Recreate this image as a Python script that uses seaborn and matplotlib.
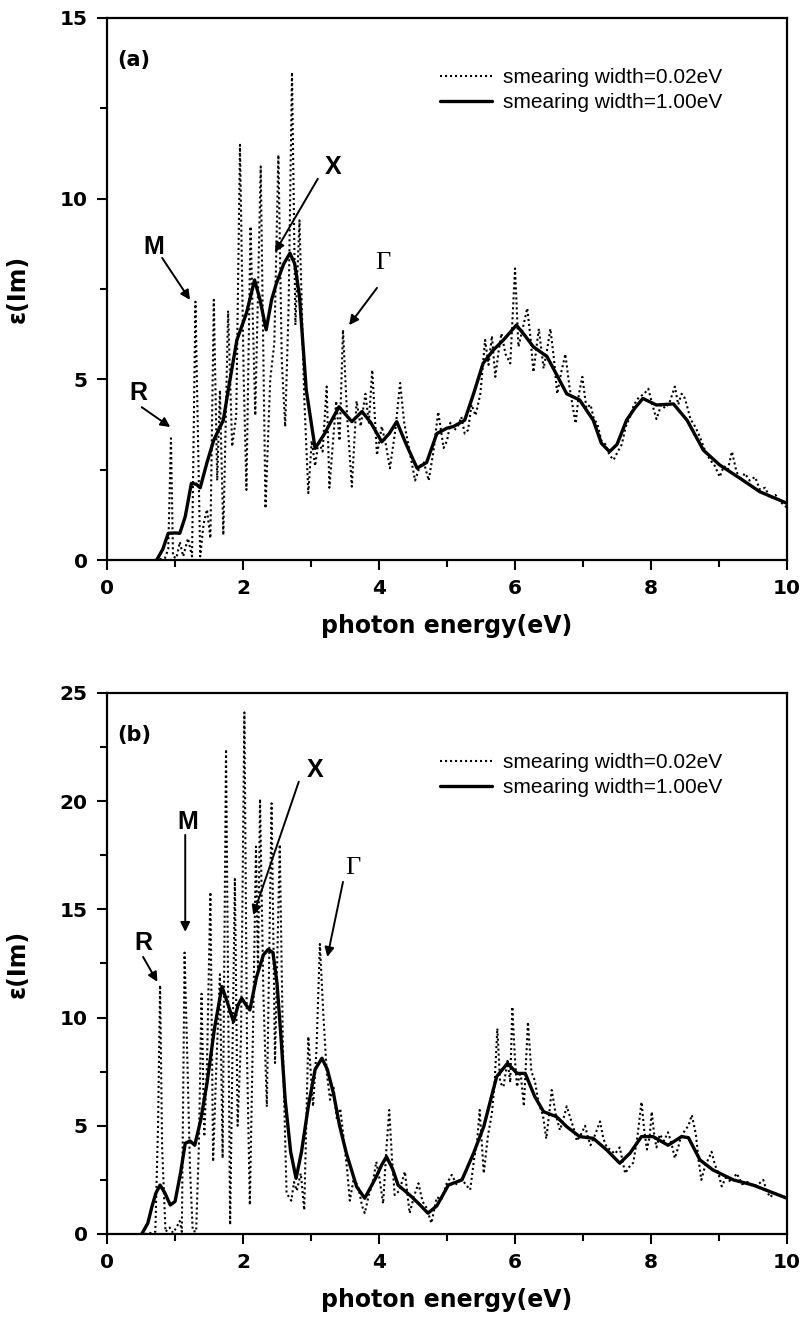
import numpy as np
import pandas as pd
import seaborn as sns
import matplotlib.pyplot as plt
from matplotlib.ticker import MultipleLocator

sns.set_style("ticks")
plt.rcParams['font.family'] = ['DejaVu Sans']
plt.rcParams.update({"text.color": "k", "axes.labelcolor": "k",
                     "xtick.color": "k", "ytick.color": "k",
                     "axes.edgecolor": "k"})

# ---- panel (a): smearing width 0.02 eV (spiky) ----
a_fine_x = [0.70, 0.85, 0.90, 0.94, 0.97, 1.02, 1.07, 1.12, 1.19, 1.25,
            1.30, 1.37, 1.42, 1.47, 1.52, 1.57, 1.62, 1.66, 1.71, 1.78,
            1.84, 1.90, 1.955, 2.01, 2.05, 2.11, 2.18, 2.26, 2.33, 2.40,
            2.46, 2.52, 2.57, 2.62, 2.67, 2.72, 2.77, 2.83, 2.90, 2.96,
            3.01, 3.06, 3.11, 3.17, 3.23, 3.27, 3.32, 3.37, 3.42, 3.47,
            3.53, 3.60, 3.67, 3.73, 3.80, 3.85, 3.90, 3.97, 4.04, 4.10,
            4.16, 4.24, 4.31, 4.37, 4.41, 4.47, 4.53, 4.60, 4.66, 4.73,
            4.80, 4.87, 4.95, 5.00, 5.05, 5.11, 5.16, 5.21, 5.26, 5.31,
            5.36, 5.42, 5.49, 5.56, 5.61, 5.66, 5.71, 5.76, 5.80, 5.86,
            5.93, 6.00, 6.05, 6.10, 6.18, 6.23, 6.27, 6.35, 6.42, 6.47,
            6.52, 6.57, 6.62, 6.68, 6.74, 6.80, 6.89, 6.94, 6.99, 7.05,
            7.11, 7.16, 7.21, 7.27, 7.33, 7.39, 7.45, 7.51, 7.57, 7.63,
            7.69, 7.75, 7.82, 7.90, 7.96, 8.02, 8.08, 8.15, 8.21, 8.28,
            8.35, 8.40, 8.45, 8.50, 8.58, 8.65, 8.72, 8.80, 8.87, 8.94,
            9.01, 9.07, 9.13, 9.19, 9.25, 9.31, 9.38, 9.45, 9.53, 9.60,
            9.68, 9.75, 9.83, 9.91, 10.0]
a_fine_y = [0.0, 0.05, 0.3, 3.37, 0.1, 0.05, 0.5, 0.1, 0.6, 0.1,
            7.15, 0.1, 1.0, 1.4, 0.6, 7.2, 2.2, 4.7, 0.69, 6.9,
            3.14, 4.0, 11.49, 5.0, 1.94, 9.23, 4.0, 10.89, 1.43, 5.0,
            6.0, 11.21, 5.5, 3.69, 7.0, 13.5, 6.5, 9.4, 4.5, 1.85,
            3.3, 2.6, 3.3, 3.0, 4.8, 2.0, 3.2, 4.4, 3.3, 6.37,
            4.0, 2.03, 4.4, 3.7, 4.6, 3.8, 5.26, 2.9, 3.7, 3.2,
            2.54, 3.6, 4.9, 3.8, 3.4, 2.8, 2.2, 2.6, 2.7, 2.2,
            3.0, 4.1, 3.1, 3.3, 3.8, 3.6, 3.7, 3.96, 3.5, 3.6,
            4.3, 4.0, 4.6, 6.09, 5.4, 6.2, 5.07, 5.8, 6.27, 5.7,
            5.44, 8.07, 5.9, 6.3, 6.97, 6.1, 5.2, 6.4, 5.3, 5.8,
            6.4, 5.6, 4.6, 5.2, 5.7, 4.8, 3.78, 4.6, 5.07, 4.2,
            4.3, 3.9, 3.78, 3.3, 3.2, 2.9, 2.77, 3.0, 3.2, 3.7,
            3.96, 4.3, 4.5, 4.6, 4.74, 4.3, 3.9, 4.3, 4.2, 4.4,
            4.8, 4.3, 4.6, 4.47, 3.9, 3.69, 3.4, 3.0, 2.77, 2.6,
            2.3, 2.6, 2.5, 3.0, 2.5, 2.2, 2.4, 2.2, 2.3, 1.95,
            2.0, 1.7, 1.8, 1.6, 1.45]

# ---- panel (a): smearing width 1.00 eV (smooth) ----
a_wide_x = [0.73, 0.82, 0.90, 1.00, 1.07, 1.15, 1.24, 1.31, 1.37, 1.47,
            1.57, 1.71, 1.80, 1.91, 2.05, 2.17, 2.25, 2.34, 2.42, 2.49,
            2.60, 2.69, 2.76, 2.83, 2.93, 3.06, 3.20, 3.41, 3.60, 3.75,
            3.88, 4.04, 4.15, 4.26, 4.40, 4.56, 4.70, 4.85, 5.00, 5.09,
            5.26, 5.39, 5.53, 5.68, 5.83, 6.02, 6.15, 6.27, 6.47, 6.62,
            6.76, 6.95, 7.15, 7.27, 7.39, 7.50, 7.64, 7.76, 7.88, 8.08,
            8.33, 8.53, 8.77, 9.01, 9.31, 9.60, 10.0]
a_wide_y = [0.0, 0.3, 0.74, 0.75, 0.74, 1.2, 2.12, 2.1, 2.0, 2.7,
            3.32, 3.87, 4.9, 6.09, 6.83, 7.75, 7.2, 6.37, 7.2, 7.65,
            8.2, 8.49, 8.2, 7.3, 4.7, 3.09, 3.5, 4.24, 3.83, 4.11,
            3.8, 3.27, 3.5, 3.83, 3.2, 2.54, 2.7, 3.5, 3.65, 3.69,
            3.87, 4.6, 5.44, 5.81, 6.09, 6.5, 6.2, 5.9, 5.63, 5.1,
            4.6, 4.43, 3.87, 3.23, 3.0, 3.2, 3.87, 4.2, 4.47, 4.29,
            4.32, 3.87, 3.04, 2.63, 2.26, 1.89, 1.57]

# ---- panel (b): smearing width 0.02 eV (spiky) ----
b_fine_x = [0.55, 0.65, 0.71, 0.75, 0.78, 0.81, 0.86, 0.92, 0.97, 1.02,
            1.07, 1.10, 1.14, 1.18, 1.22, 1.26, 1.31, 1.35, 1.39, 1.43,
            1.47, 1.52, 1.56, 1.61, 1.66, 1.70, 1.75, 1.81, 1.88, 1.92,
            1.97, 2.02, 2.06, 2.10, 2.15, 2.19, 2.22, 2.25, 2.30, 2.35,
            2.42, 2.47, 2.54, 2.59, 2.64, 2.71, 2.75, 2.79, 2.85, 2.90,
            2.96, 3.03, 3.08, 3.13, 3.18, 3.23, 3.28, 3.33, 3.38, 3.43,
            3.48, 3.53, 3.57, 3.63, 3.70, 3.75, 3.79, 3.85, 3.91, 3.96,
            4.01, 4.06, 4.11, 4.15, 4.19, 4.23, 4.30, 4.38, 4.45, 4.52,
            4.58, 4.64, 4.70, 4.77, 4.85, 4.92, 4.99, 5.07, 5.14, 5.21,
            5.27, 5.34, 5.40, 5.44, 5.48, 5.54, 5.60, 5.66, 5.70, 5.74,
            5.78, 5.83, 5.89, 5.93, 5.96, 6.00, 6.03, 6.08, 6.13, 6.19,
            6.24, 6.29, 6.35, 6.41, 6.46, 6.50, 6.54, 6.60, 6.66, 6.71,
            6.76, 6.82, 6.87, 6.91, 6.97, 7.03, 7.07, 7.11, 7.18, 7.25,
            7.30, 7.35, 7.40, 7.47, 7.54, 7.58, 7.62, 7.68, 7.74, 7.80,
            7.86, 7.90, 7.94, 7.98, 8.01, 8.05, 8.08, 8.13, 8.19, 8.25,
            8.30, 8.35, 8.40, 8.43, 8.50, 8.55, 8.60, 8.66, 8.70, 8.74,
            8.80, 8.85, 8.89, 8.94, 8.99, 9.04, 9.10, 9.18, 9.26, 9.34,
            9.42, 9.50, 9.58, 9.65, 9.70, 9.75, 9.82, 9.88, 9.94, 10.0]
b_fine_y = [0.0, 0.05, 0.1, 5.0, 11.5, 4.0, 0.1, 0.3, 0.05, 0.3,
            0.6, 0.1, 13.0, 8.2, 3.0, 0.15, 0.1, 4.0, 11.1, 4.5,
            7.9, 15.8, 3.34, 8.0, 12.0, 3.5, 22.4, 0.42, 16.4, 5.0,
            9.0, 24.1, 8.0, 1.34, 10.0, 17.9, 12.0, 20.1, 11.0, 5.88,
            19.9, 7.9, 18.0, 8.0, 1.88, 1.54, 2.4, 2.0, 2.8, 1.1,
            9.12, 5.9, 8.5, 13.4, 10.2, 7.5, 6.2, 6.8, 5.3, 5.8,
            4.4, 3.0, 1.54, 2.6, 2.1, 1.3, 0.96, 1.8, 2.4, 3.34,
            2.5, 1.4, 4.0, 5.73, 3.5, 1.8, 2.0, 2.88, 0.96, 1.8,
            2.34, 1.5, 1.2, 0.5, 1.7, 1.6, 2.3, 2.73, 2.3, 2.6,
            2.3, 2.04, 3.5, 4.2, 5.73, 2.8, 4.5, 5.58, 7.0, 9.5,
            7.0, 6.8, 8.0, 7.0, 10.5, 8.0, 6.8, 7.5, 5.9, 9.8,
            7.5, 7.1, 6.0, 5.5, 4.4, 5.5, 6.65, 5.5, 4.8, 5.3,
            5.9, 5.3, 4.8, 4.3, 4.6, 5.0, 4.5, 4.1, 4.6, 5.2,
            4.4, 4.0, 3.9, 3.7, 4.0, 3.4, 2.8, 3.1, 3.3, 4.5,
            6.1, 4.8, 3.9, 4.5, 5.65, 4.5, 4.0, 4.6, 4.3, 4.7,
            4.2, 3.5, 4.0, 4.4, 4.8, 5.0, 5.5, 4.6, 3.4, 2.5,
            3.2, 3.5, 3.8, 3.2, 2.8, 2.2, 2.6, 2.4, 2.8, 2.3,
            2.4, 2.2, 2.3, 2.5, 2.0, 1.7, 1.9, 1.8, 1.75, 1.65]

# ---- panel (b): smearing width 1.00 eV (smooth) ----
b_wide_x = [0.51, 0.60, 0.66, 0.72, 0.78, 0.85, 0.93, 1.00, 1.08, 1.15,
            1.22, 1.29, 1.38, 1.47, 1.58, 1.69, 1.78, 1.86, 1.93, 1.98,
            2.04, 2.10, 2.20, 2.30, 2.37, 2.44, 2.50, 2.56, 2.62, 2.70,
            2.78, 2.86, 2.96, 3.06, 3.16, 3.24, 3.33, 3.42, 3.52, 3.67,
            3.79, 3.96, 4.04, 4.11, 4.20, 4.28, 4.48, 4.60, 4.72, 4.85,
            5.02, 5.22, 5.39, 5.54, 5.65, 5.73, 5.89, 6.03, 6.15, 6.29,
            6.42, 6.61, 6.76, 6.95, 7.15, 7.35, 7.54, 7.69, 7.86, 8.03,
            8.25, 8.45, 8.55, 8.72, 8.91, 9.21, 9.50, 10.0]
b_wide_y = [0.0, 0.5, 1.26, 1.9, 2.26, 1.9, 1.34, 1.5, 2.8, 4.19,
            4.3, 4.1, 5.3, 6.96, 9.5, 11.43, 10.6, 9.81, 10.6, 10.89,
            10.6, 10.35, 11.89, 12.9, 13.15, 13.0, 11.58, 9.0, 6.19, 3.8,
            2.57, 3.8, 5.9, 7.6, 8.12, 7.6, 6.5, 5.0, 3.73, 2.19,
            1.65, 2.65, 3.2, 3.57, 3.0, 2.26, 1.72, 1.35, 0.96, 1.3,
            2.26, 2.5, 3.73, 4.96, 6.3, 7.27, 7.89, 7.42, 7.42, 6.35,
            5.65, 5.42, 4.96, 4.5, 4.42, 3.88, 3.27, 3.73, 4.5, 4.5,
            4.1, 4.5, 4.45, 3.42, 2.96, 2.5, 2.26, 1.65]

labels = ["smearing width=0.02eV", "smearing width=1.00eV"]

# point labels: (text, text pos, arrow start, arrow tip)
a_marks = [("R", (0.46, 4.62), (0.51, 4.23), (0.93, 3.68)),
           ("M", (0.68, 8.66), (0.81, 8.36), (1.22, 7.2)),
           ("X", (3.32, 10.88), (3.10, 10.55), (2.47, 8.52)),
           ("\u0393", (4.06, 8.22), (3.97, 7.53), (3.56, 6.5))]
b_marks = [("R", (0.53, 13.45), (0.53, 12.8), (0.74, 11.65)),
           ("M", (1.19, 19.04), (1.15, 18.44), (1.15, 13.96)),
           ("X", (3.06, 21.44), (2.82, 20.9), (2.15, 14.74)),
           ("\u0393", (3.62, 16.9), (3.47, 16.27), (3.24, 12.8))]


def draw_panel(ax, fx, fy, wx, wy, ymax, tag, marks, leg_y):
    fine = pd.DataFrame({"E": fx, "eps": fy})
    wide = pd.DataFrame({"E": wx, "eps": wy})
    sns.lineplot(data=fine, x="E", y="eps", ax=ax, color="k", lw=1.5,
                 linestyle=(0, (1, 1.4)), estimator=None, label=labels[0])
    sns.lineplot(data=wide, x="E", y="eps", ax=ax, color="k", lw=2.4,
                 estimator=None, label=labels[1])
    ax.set_xlim(0, 10)
    ax.set_ylim(0, ymax)
    ax.xaxis.set_major_locator(MultipleLocator(2))
    ax.xaxis.set_minor_locator(MultipleLocator(1))
    ax.yaxis.set_major_locator(MultipleLocator(5))
    ax.yaxis.set_minor_locator(MultipleLocator(2.5))
    ax.tick_params(which="major", direction="out", length=7, width=1.5,
                   labelsize=14.5, pad=7)
    ax.tick_params(which="minor", direction="out", length=5, width=1.5)
    for lab in ax.get_xticklabels() + ax.get_yticklabels():
        lab.set_fontweight("bold")
    for sp in ax.spines.values():
        sp.set_visible(True)
        sp.set_linewidth(1.6)
    ax.set_xlabel("photon energy(eV)", fontsize=17, fontweight="bold")
    ax.set_ylabel("\u03b5(Im)", fontsize=17, fontweight="bold")
    ax.xaxis.set_label_coords(0.5, -0.1)
    ax.yaxis.set_label_coords(-0.113, 0.5)
    ax.text(0.04, 0.922, tag, transform=ax.transAxes, fontsize=15,
            fontweight="bold", ha="center", va="center")
    for name, tpos, start, tip in marks:
        if name == "\u0393":
            ax.text(*tpos, name, fontsize=19, family="Liberation Serif",
                    ha="center", va="center")
        else:
            ax.text(*tpos, name, fontsize=18, family="Liberation Sans",
                    fontweight="bold", ha="center", va="center")
        ax.annotate("", xy=tip, xytext=start,
                    arrowprops=dict(arrowstyle="-|>", color="k", lw=1.4,
                                    mutation_scale=14, shrinkA=0, shrinkB=0))
    ax.legend(loc="upper left", bbox_to_anchor=(0.49, leg_y), frameon=False,
              borderaxespad=0, borderpad=0, handlelength=2.5,
              handletextpad=0.5, labelspacing=0.3,
              prop={"family": "Liberation Sans", "size": 15})


fig = plt.figure(figsize=(8.03, 13.29), dpi=100)
ax_a = fig.add_axes([0.1333, 0.5786, 0.8468, 0.4079])
ax_b = fig.add_axes([0.1333, 0.0715, 0.8468, 0.4071])

draw_panel(ax_a, a_fine_x, a_fine_y, a_wide_x, a_wide_y, 15, "(a)", a_marks, 0.908)
draw_panel(ax_b, b_fine_x, b_fine_y, b_wide_x, b_wide_y, 25, "(b)", b_marks, 0.889)

fig.savefig("out.png", dpi=100)
